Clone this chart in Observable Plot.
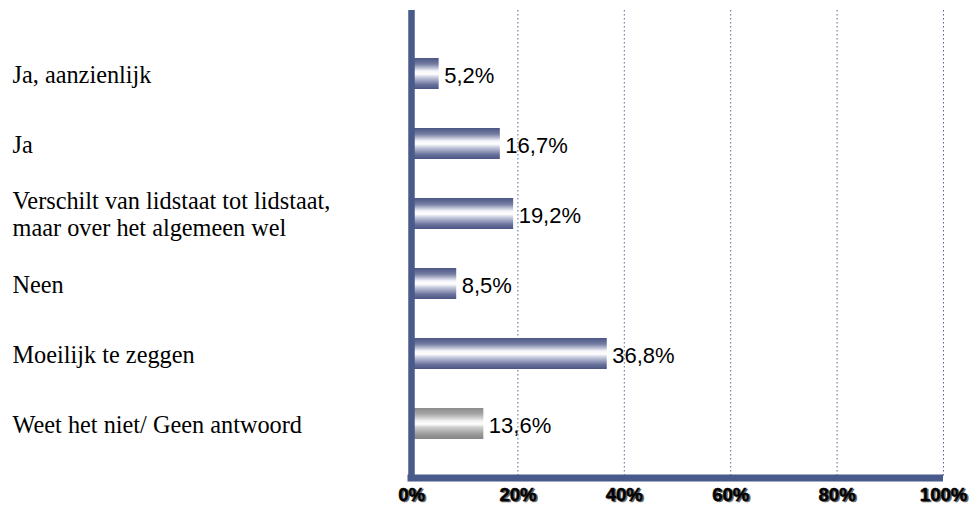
<!DOCTYPE html>
<html>
<head>
<meta charset="utf-8">
<script src="https://cdn.jsdelivr.net/npm/d3@7"></script>
<script src="https://cdn.jsdelivr.net/npm/@observablehq/plot@0.6"></script>
<style>
  html, body { margin: 0; padding: 0; background: #fff; overflow: hidden; }
  svg { display: block; }
</style>
</head>
<body>
<div id="chart"></div>
<script>
const categories = [
  "Ja, aanzienlijk",
  "Ja",
  "Verschilt van lidstaat tot lidstaat,\nmaar over het algemeen wel",
  "Neen",
  "Moeilijk te zeggen",
  "Weet het niet/ Geen antwoord"
];
const values = [5.2, 16.7, 19.2, 8.5, 36.8, 13.6];
const kinds = ["answer", "answer", "answer", "answer", "answer", "noanswer"];
const valueLabels = ["5,2%", "16,7%", "19,2%", "8,5%", "36,8%", "13,6%"];
const xTicks = [0, 20, 40, 60, 80, 100];
const xTickLabels = ["0%", "20%", "40%", "60%", "80%", "100%"];
const gridTicks = [20, 40, 60, 80, 100];

const rows = categories.map((c, i) => ({cat: c, value: values[i], kind: kinds[i], label: valueLabels[i]}));
const tickRows = xTicks.map((t, i) => ({t, label: xTickLabels[i]}));

const axisColor = "#485a8a";

function defsMark() {
  const ns = "http://www.w3.org/2000/svg";
  const defs = document.createElementNS(ns, "defs");
  const mk = (id, stops) => {
    const g = document.createElementNS(ns, "linearGradient");
    g.setAttribute("id", id);
    g.setAttribute("x1", "0"); g.setAttribute("y1", "0");
    g.setAttribute("x2", "0"); g.setAttribute("y2", "1");
    for (const [o, c] of stops) {
      const s = document.createElementNS(ns, "stop");
      s.setAttribute("offset", o);
      s.setAttribute("stop-color", c);
      g.appendChild(s);
    }
    defs.appendChild(g);
  };
  mk("gBlue", [[0, "#4a5583"], [0.2, "#767ea3"], [0.42, "#f4f5fa"], [0.52, "#ffffff"], [0.62, "#c9cde0"], [0.85, "#6a739c"], [1, "#4a5583"]]);
  mk("gGray", [[0, "#8a8a8a"], [0.2, "#a8a8a8"], [0.42, "#f2f2f2"], [0.52, "#ffffff"], [0.62, "#cfcfcf"], [0.85, "#999999"], [1, "#858585"]]);
  return defs;
}

function bottomAxisLine(index, scales, values, dimensions) {
  const ns = "http://www.w3.org/2000/svg";
  const line = document.createElementNS(ns, "line");
  const y = dimensions.height - dimensions.marginBottom;
  line.setAttribute("x1", scales.x(0) - 3.5);
  line.setAttribute("x2", scales.x(100));
  line.setAttribute("y1", y);
  line.setAttribute("y2", y);
  line.setAttribute("stroke", axisColor);
  line.setAttribute("stroke-width", 7);
  return line;
}

const chart = Plot.plot({
  width: 975,
  height: 510,
  marginLeft: 411,
  marginRight: 32,
  marginTop: 10,
  marginBottom: 32,
  x: {domain: [0, 100], axis: null},
  y: {domain: categories, range: [36.6, 461.4], paddingInner: 0.55, paddingOuter: 0.275, axis: null},
  marks: [
    defsMark,
    Plot.ruleX(gridTicks, {stroke: "#5a6898", strokeWidth: 1, strokeDasharray: "1.5,2.5"}),
    Plot.barX(rows, {filter: d => d.kind === "answer", x: "value", y: "cat", fill: "url(#gBlue)"}),
    Plot.barX(rows, {filter: d => d.kind === "noanswer", x: "value", y: "cat", fill: "url(#gGray)"}),
    Plot.text(rows, {x: "value", y: "cat", text: "label", textAnchor: "start", dx: 5, dy: 2,
      fontFamily: "Liberation Sans, Arial, sans-serif", fontSize: 22, fill: "#000"}),
    Plot.text(rows, {y: "cat", text: "cat", frameAnchor: "left", textAnchor: "start", dx: -399,
      lineHeight: 1.12, fontFamily: "'Liberation Serif', 'Times New Roman', serif", fontSize: 24.3, fill: "#000"}),
    Plot.ruleX([0], {stroke: axisColor, strokeWidth: 6.5}),
    bottomAxisLine,
    Plot.text(tickRows, {x: "t", text: "label", frameAnchor: "bottom", dy: 23.5, dx: 1.5,
      fontFamily: "Liberation Sans, Arial, sans-serif", fontWeight: "bold", fontSize: 18.5, fill: "#666",
      stroke: "#666", strokeWidth: 0.6}),
    Plot.text(tickRows, {x: "t", text: "label", frameAnchor: "bottom", dy: 22, dx: 0,
      fontFamily: "Liberation Sans, Arial, sans-serif", fontWeight: "bold", fontSize: 18.5, fill: "#000",
      stroke: "#000", strokeWidth: 0.5})
  ]
});
document.getElementById("chart").appendChild(chart);
</script>
</body>
</html>
